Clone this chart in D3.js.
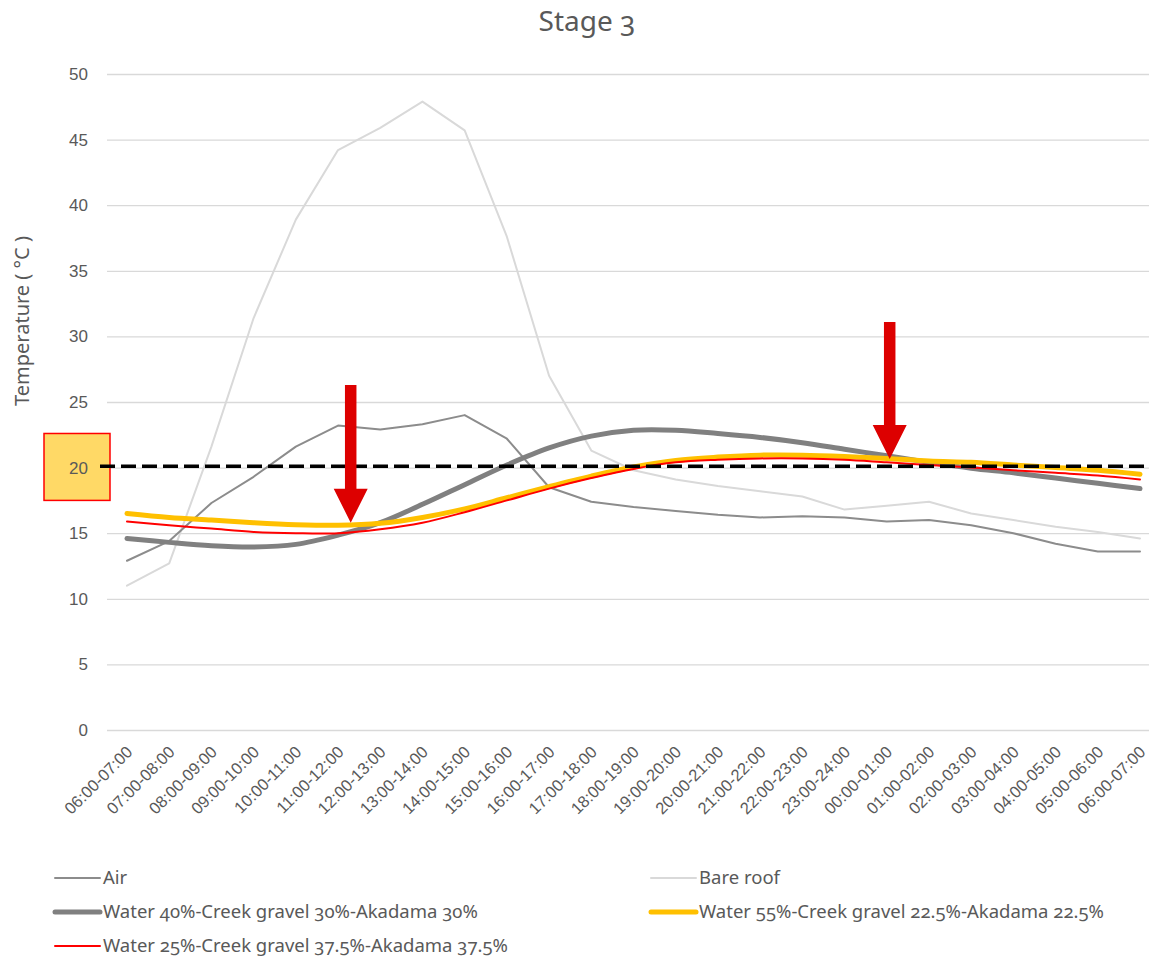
<!DOCTYPE html>
<html>
<head>
<meta charset="utf-8">
<script src="https://cdn.jsdelivr.net/npm/d3@7"></script>
<style>
  html, body { margin: 0; padding: 0; background: #fff; }
  svg { display: block; font-family: "Noto Sans", "Open Sans", sans-serif; font-feature-settings: "onum" 1; }
  text { fill: #595959; }
</style>
</head>
<body>
<svg id="chart" width="1149" height="960"></svg>
<script>
// Hourly periods across one day (06:00 to 06:00 the next morning)
const periods = [
  "06:00-07:00", "07:00-08:00", "08:00-09:00", "09:00-10:00", "10:00-11:00",
  "11:00-12:00", "12:00-13:00", "13:00-14:00", "14:00-15:00", "15:00-16:00",
  "16:00-17:00", "17:00-18:00", "18:00-19:00", "19:00-20:00", "20:00-21:00",
  "21:00-22:00", "22:00-23:00", "23:00-24:00", "00:00-01:00", "01:00-02:00",
  "02:00-03:00", "03:00-04:00", "04:00-05:00", "05:00-06:00", "06:00-07:00"
];

// Temperatures in °C
const air = [12.9, 14.4, 17.3, 19.3, 21.6, 23.2, 22.9, 23.3, 24.0, 22.2, 18.5, 17.4, 17.0,
             16.7, 16.4, 16.2, 16.3, 16.2, 15.9, 16.0, 15.6, 15.0, 14.2, 13.6, 13.6];
const bareRoof = [11.0, 12.7, 21.6, 31.4, 38.9, 44.2, 45.9, 47.9, 45.7, 37.6, 27.0, 21.3, 19.8,
                  19.1, 18.6, 18.2, 17.8, 16.8, 17.1, 17.4, 16.5, 16.0, 15.5, 15.1, 14.6];
const water40 = [14.6, 14.3, 14.05, 13.95, 14.15, 14.85, 15.8, 17.2, 18.7, 20.2, 21.5, 22.4, 22.85,
                 22.85, 22.6, 22.3, 21.9, 21.4, 20.9, 20.4, 19.95, 19.6, 19.2, 18.8, 18.4];
const water55 = [16.5, 16.2, 16.0, 15.8, 15.65, 15.6, 15.75, 16.2, 16.85, 17.7, 18.55, 19.35, 20.05,
                 20.55, 20.8, 20.95, 20.95, 20.85, 20.7, 20.5, 20.4, 20.2, 20.0, 19.8, 19.5];
const water25 = [15.9, 15.6, 15.35, 15.1, 15.0, 15.0, 15.3, 15.8, 16.6, 17.5, 18.4, 19.2, 19.9,
                 20.4, 20.6, 20.7, 20.7, 20.6, 20.4, 20.2, 20.0, 19.8, 19.6, 19.4, 19.1];

const seriesNames = [
  "Air",
  "Bare roof",
  "Water 40%-Creek gravel 30%-Akadama 30%",
  "Water 55%-Creek gravel 22.5%-Akadama 22.5%",
  "Water 25%-Creek gravel 37.5%-Akadama 37.5%"
];

const yTicks = [0, 5, 10, 15, 20, 25, 30, 35, 40, 45, 50];
const referenceTemp = 20.1;           // dashed reference level
// Arrow annotations: position in category units, top and tip temperature
const arrowAt = [5.3, 18.07];
const arrowTop = [26.3, 31.1];
const arrowTip = [15.8, 20.65];

const svg = d3.select("#chart");

const plotLeft = 107, plotRight = 1149;
const x = d3.scalePoint().domain(d3.range(periods.length)).range([127, 1140]);
const step = x.step();
const y = d3.scaleLinear().domain([0, 50]).range([730, 74]);

// Title
svg.append("text")
  .attr("x", 587).attr("y", 31)
  .attr("text-anchor", "middle")
  .style("font-size", "28px")
  .text("Stage 3");

// Horizontal gridlines
const grid = svg.append("g").attr("transform", `translate(${plotLeft},0)`)
  .call(d3.axisLeft(y).tickValues(yTicks).tickSize(-(plotRight - plotLeft)).tickFormat(""));
grid.select(".domain").remove();
grid.selectAll("line").attr("stroke", "#d9d9d9").attr("stroke-width", 1.3);

// Highlight box around the 20 °C label
svg.append("rect")
  .attr("x", 44).attr("y", y(22.6))
  .attr("width", 66).attr("height", y(17.5) - y(22.6))
  .attr("fill", "#ffd966").attr("stroke", "#ff0000").attr("stroke-width", 1.5);

// Y tick labels
const yAxis = svg.append("g").attr("transform", `translate(${plotLeft},0)`)
  .call(d3.axisLeft(y).tickValues(yTicks).tickSize(0).tickPadding(19));
yAxis.select(".domain").remove();
yAxis.selectAll("text").style("font-size", "17px").attr("fill", "#595959");

// Y axis title
svg.append("text")
  .attr("transform", "translate(29,321) rotate(-90)")
  .attr("text-anchor", "middle")
  .style("font-size", "20px")
  .text("Temperature ( °C )");

// X tick labels, rotated
const xAxis = svg.append("g").attr("transform", "translate(0,730)")
  .call(d3.axisBottom(x).tickSize(0).tickFormat(i => periods[i]));
xAxis.select(".domain").remove();
xAxis.selectAll("text")
  .attr("text-anchor", "end")
  .attr("transform", "translate(2,19) rotate(-45)")
  .attr("dy", "0.35em").attr("y", 0)
  .style("font-size", "16.5px").attr("fill", "#595959");

// Data lines
const straight = d3.line().x((d, i) => x(i)).y(d => y(d));
const smooth = d3.line().x((d, i) => x(i)).y(d => y(d)).curve(d3.curveCatmullRom.alpha(0.5));

const series = [
  { values: bareRoof, color: "#d9d9d9", width: 2, gen: straight },
  { values: air, color: "#8c8c8c", width: 2, gen: straight },
  { values: water40, color: "#808080", width: 5, gen: smooth },
  { values: water55, color: "#ffc000", width: 5, gen: smooth },
  { values: water25, color: "#ff0000", width: 2, gen: smooth }
];
svg.append("g").selectAll("path").data(series).join("path")
  .attr("d", s => s.gen(s.values))
  .attr("fill", "none")
  .attr("stroke", s => s.color)
  .attr("stroke-width", s => s.width)
  .attr("stroke-linejoin", "round")
  .attr("stroke-linecap", "round");

// Dashed reference line
svg.append("line")
  .attr("x1", 100).attr("x2", 1146)
  .attr("y1", y(referenceTemp)).attr("y2", y(referenceTemp))
  .attr("stroke", "#000").attr("stroke-width", 3.5)
  .attr("stroke-dasharray", "15 6");

// Downward arrows
const arrowPos = v => x(Math.floor(v)) + (v - Math.floor(v)) * step;
const shaftW = 11.5, headW = 34, headH = 34;
svg.append("g").selectAll("path").data(arrowAt).join("path")
  .attr("d", (v, i) => {
    const cx = arrowPos(v), top = y(arrowTop[i]), tip = y(arrowTip[i]);
    const hb = tip - headH;
    return `M${cx - shaftW / 2},${top} L${cx + shaftW / 2},${top} L${cx + shaftW / 2},${hb}` +
           ` L${cx + headW / 2},${hb} L${cx},${tip} L${cx - headW / 2},${hb}` +
           ` L${cx - shaftW / 2},${hb} Z`;
  })
  .attr("fill", "#dd0000");

// Legend
const legendItems = [
  { name: seriesNames[0], color: "#8c8c8c", width: 2, lx: 55, ly: 878 },
  { name: seriesNames[1], color: "#d9d9d9", width: 2, lx: 651, ly: 878 },
  { name: seriesNames[2], color: "#808080", width: 5, lx: 55, ly: 912 },
  { name: seriesNames[3], color: "#ffc000", width: 5, lx: 651, ly: 912 },
  { name: seriesNames[4], color: "#ff0000", width: 2, lx: 55, ly: 946 }
];
const leg = svg.append("g").selectAll("g").data(legendItems).join("g")
  .attr("transform", d => `translate(${d.lx},${d.ly})`);
leg.append("line")
  .attr("x1", 0).attr("x2", 45).attr("y1", 0).attr("y2", 0)
  .attr("stroke", d => d.color).attr("stroke-width", d => d.width)
  .attr("stroke-linecap", "round");
leg.append("text")
  .attr("x", 48).attr("dy", "0.35em")
  .style("font-size", "18.5px")
  .text(d => d.name);
</script>
</body>
</html>
